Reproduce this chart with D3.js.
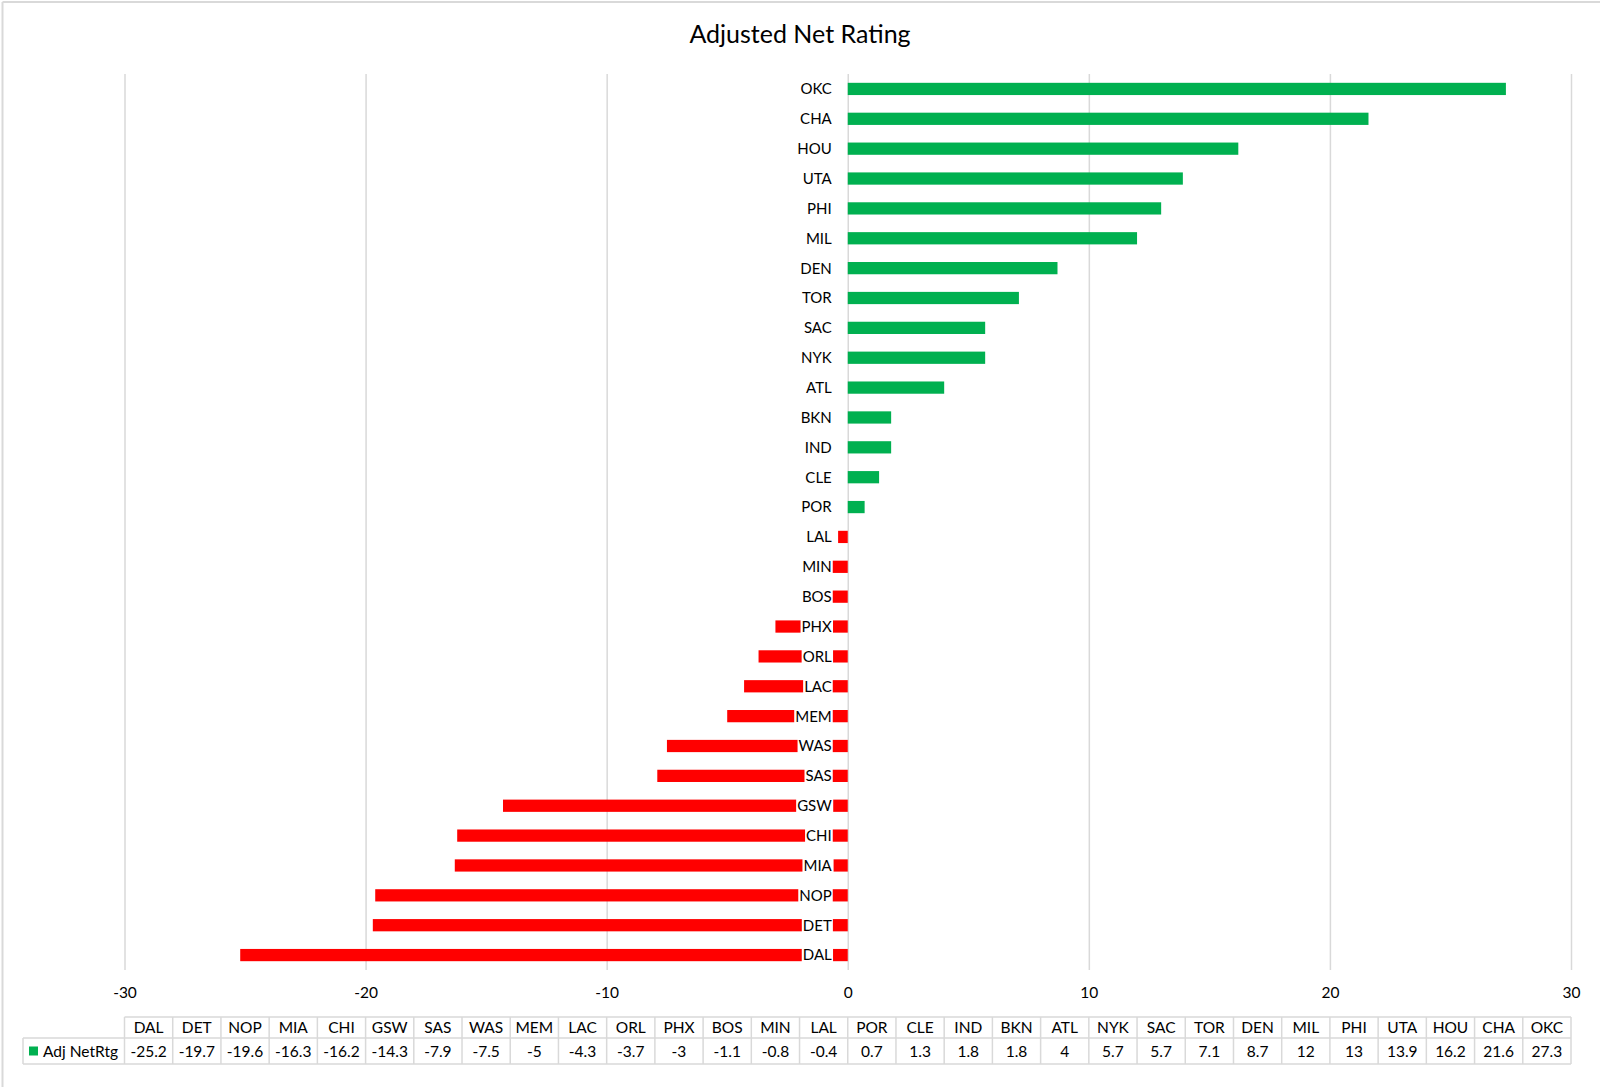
<!DOCTYPE html>
<html>
<head>
<meta charset="utf-8">
<script src="https://cdn.jsdelivr.net/npm/d3@7"></script>
<style>
  body { margin: 0; background: #fff; }
  text { font-family: Lato, "Open Sans", sans-serif; fill: #000; }
</style>
</head>
<body>
<svg id="chart"></svg>
<script>
// values, in table order (lowest to highest)
var teams = ["DAL","DET","NOP","MIA","CHI","GSW","SAS","WAS","MEM","LAC",
             "ORL","PHX","BOS","MIN","LAL","POR","CLE","IND","BKN","ATL",
             "NYK","SAC","TOR","DEN","MIL","PHI","UTA","HOU","CHA","OKC"];
var netRtg = [-25.2,-19.7,-19.6,-16.3,-16.2,-14.3,-7.9,-7.5,-5,-4.3,
              -3.7,-3,-1.1,-0.8,-0.4,0.7,1.3,1.8,1.8,4,
              5.7,5.7,7.1,8.7,12,13,13.9,16.2,21.6,27.3];
var xTicks = [-30,-20,-10,0,10,20,30];
var seriesName = "Adj NetRtg";
var title = "Adjusted Net Rating";

var W = 1600, H = 1087;
var plotLeft = 124.5, plotRight = 1571, plotTop = 74, plotBottom = 970;
var grid = "#d9d9d9";

var rows = teams.map(function(t, i) { return { team: t, value: netRtg[i] }; });

var svg = d3.select("#chart").attr("width", W).attr("height", H);

// outer chart frame (only top and left edges are inside the picture)
svg.append("line").attr("x1", 2.5).attr("x2", W).attr("y1", 2).attr("y2", 2)
    .attr("stroke", grid).attr("stroke-width", 2);
svg.append("line").attr("x1", 2.5).attr("x2", 2.5).attr("y1", 2).attr("y2", H)
    .attr("stroke", grid).attr("stroke-width", 2);

svg.append("text")
    .attr("x", 800).attr("y", 43)
    .attr("text-anchor", "middle")
    .style("font-size", "25px")
    .text(title);

var x = d3.scaleLinear().domain([-30, 30]).range([plotLeft, plotRight]);
var y = d3.scaleBand().domain(teams.slice().reverse()).range([plotTop, plotBottom])
    .paddingInner(0.59).paddingOuter(0.295);

// gridlines + tick labels
var xAxis = svg.append("g")
    .attr("transform", "translate(0," + plotBottom + ")")
    .call(d3.axisBottom(x).tickValues(xTicks).tickSize(-(plotBottom - plotTop))
        .tickFormat(function(d) { return String(d); }));
xAxis.select(".domain").remove();
xAxis.selectAll(".tick line").attr("stroke", grid).attr("stroke-width", 1.5);
xAxis.selectAll(".tick text")
    .attr("y", 28).attr("dy", 0)
    .style("font-size", "15.5px")
    .style("font-family", "Lato, 'Open Sans', sans-serif")
    .attr("fill", "#000");

// bars
svg.append("g").selectAll("rect")
    .data(rows)
    .enter()
    .append("rect")
    .attr("x", function(d) { return x(Math.min(0, d.value)); })
    .attr("y", function(d) { return y(d.team); })
    .attr("width", function(d) { return Math.abs(x(d.value) - x(0)); })
    .attr("height", y.bandwidth())
    .attr("fill", function(d) { return d.value < 0 ? "#ff0000" : "#00b050"; });

// category labels with white boxes over the bars
var labels = svg.append("g").selectAll("g")
    .data(rows)
    .enter()
    .append("g");
labels.append("rect").attr("fill", "#fff");
labels.append("text")
    .attr("x", x(0) - 16)
    .attr("y", function(d) { return y(d.team) + y.bandwidth() / 2; })
    .attr("dy", "0.36em")
    .attr("text-anchor", "end")
    .style("font-size", "15px")
    .text(function(d) { return d.team; });
labels.each(function() {
    var g = d3.select(this);
    var b = g.select("text").node().getBBox();
    g.select("rect")
        .attr("x", b.x - 1).attr("y", b.y)
        .attr("width", b.width + 2).attr("height", b.height);
});

// data table
var col = d3.scaleBand().domain(teams).range([plotLeft, plotRight]);
var rowTop = 1017, rowMid = 1038, rowBot = 1064, legLeft = 23;
var table = svg.append("g");

table.append("g").selectAll("text")
    .data(rows).enter().append("text")
    .attr("x", function(d) { return col(d.team) + col.bandwidth() / 2; })
    .attr("y", (rowTop + rowMid) / 2).attr("dy", "0.36em")
    .attr("text-anchor", "middle")
    .style("font-size", "15.5px")
    .text(function(d) { return d.team; });

table.append("g").selectAll("text")
    .data(rows).enter().append("text")
    .attr("x", function(d) { return col(d.team) + col.bandwidth() / 2; })
    .attr("y", (rowMid + rowBot) / 2).attr("dy", "0.36em")
    .attr("text-anchor", "middle")
    .style("font-size", "15.5px")
    .text(function(d) { return d.value; });

var tl = table.append("g").attr("stroke", grid).attr("stroke-width", 1.5).attr("fill", "none");
tl.append("line").attr("x1", plotLeft).attr("x2", plotRight).attr("y1", rowTop).attr("y2", rowTop);
tl.append("line").attr("x1", legLeft).attr("x2", plotRight).attr("y1", rowMid).attr("y2", rowMid);
tl.append("line").attr("x1", legLeft).attr("x2", plotRight).attr("y1", rowBot).attr("y2", rowBot);
tl.append("line").attr("x1", legLeft).attr("x2", legLeft).attr("y1", rowMid).attr("y2", rowBot);
tl.selectAll(".v")
    .data(teams.concat(["_end"]))
    .enter().append("line")
    .attr("x1", function(d, i) { return i < teams.length ? col(d) : plotRight; })
    .attr("x2", function(d, i) { return i < teams.length ? col(d) : plotRight; })
    .attr("y1", rowTop).attr("y2", rowBot);

// legend key
table.append("rect")
    .attr("x", 29).attr("y", (rowMid + rowBot) / 2 - 4.5)
    .attr("width", 9).attr("height", 9)
    .attr("fill", "#00b050");
table.append("text")
    .attr("x", 43).attr("y", (rowMid + rowBot) / 2).attr("dy", "0.36em")
    .style("font-size", "15.5px")
    .text(seriesName);
</script>
</body>
</html>
